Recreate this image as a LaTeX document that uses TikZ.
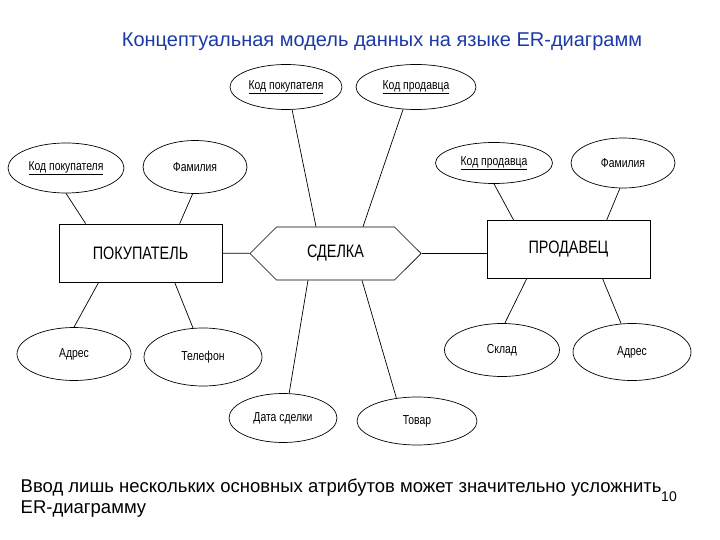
\documentclass[tikz,border=0pt]{standalone}
\usepackage{fontspec}
\setmainfont{Liberation Sans}
\newfontfamily\narrowfont{Liberation Sans}[FakeStretch=0.8]
\usetikzlibrary{shapes.geometric,shapes.symbols}
\definecolor{titleblue}{RGB}{28,58,165}

\begin{document}
\begin{tikzpicture}[x=1pt,y=-1pt,line width=0.7pt,
  attr/.style={draw,ellipse,inner sep=0pt,font=\narrowfont\fontsize{13}{15}\selectfont},
  entity/.style={draw,rectangle,minimum width=163pt,minimum height=58pt,font=\narrowfont\fontsize{18}{20}\selectfont},
  relation/.style={draw,signal,signal to=east and west,signal pointer angle=90,minimum width=171pt,minimum height=53pt,inner sep=0pt,font=\narrowfont\fontsize{18}{20}\selectfont}]
\useasboundingbox (0,0) rectangle (720,540);
\node[text=titleblue,font=\fontsize{20}{22}\selectfont] (t1) at (382,42) {Концептуальная модель данных на языке ER-диаграмм};
\node[entity] (v1) at (140.5,253) {ПОКУПАТЕЛЬ};
\node[relation] (v2) at (335.5,253.5) {СДЕЛКА};
\node[entity] (v3) at (568.5,249.5) {ПРОДАВЕЦ};
\draw (v1) -- (v2);
\draw (v2.east) -- (v2.east -| v3.west);
% buyer attributes
\node[attr,minimum width=116pt,minimum height=50pt] (v4) at (66,168) {\underline{Код покупателя}};
\node[attr,minimum width=104pt,minimum height=53pt] (v5) at (195,167) {Фамилия};
\node[attr,minimum width=114pt,minimum height=53pt] (v6) at (74,354) {Адрес};
\node[attr,minimum width=118pt,minimum height=58pt] (v7) at (203,357) {Телефон};
\draw (v4.south) -- ([xshift=27pt]v1.north west);
\draw (v5.-95) -- ([xshift=121pt]v1.north west);
\draw (v6.north) -- ([xshift=40pt]v1.south west);
\draw (v7.109) -- ([xshift=116pt]v1.south west);
% deal attributes
\node[attr,minimum width=112pt,minimum height=45pt] (v8) at (286,87) {\underline{Код покупателя}};
\node[attr,minimum width=120pt,minimum height=45pt] (v9) at (416,87) {\underline{Код продавца}};
\node[attr,minimum width=108pt,minimum height=49pt] (v10) at (283,418) {Дата сделки};
\node[attr,minimum width=120pt,minimum height=48pt] (v11) at (417,421) {Товар};
\draw (v8.-75) -- ([xshift=-19.5pt]v2.north);
\draw (v9.-120) -- ([xshift=27.5pt]v2.north);
\draw (v10.76) -- ([xshift=-27.5pt]v2.south);
\draw (v11.132) -- ([xshift=26.5pt]v2.south);
% seller attributes
\node[attr,minimum width=117pt,minimum height=41pt] (v12) at (494,163) {\underline{Код продавца}};
\node[attr,minimum width=104pt,minimum height=50pt] (v13) at (623,163) {Фамилия};
\node[attr,minimum width=115pt,minimum height=53pt] (v14) at (502,350) {Склад};
\node[attr,minimum width=118pt,minimum height=57pt] (v15) at (632,352) {Адрес};
\draw (v12.south) -- ([xshift=27pt]v3.north west);
\draw (v13.-97) -- ([xshift=120pt]v3.north west);
\draw (v14.84) -- ([xshift=40pt]v3.south west);
\draw (v15.111) -- ([xshift=116pt]v3.south west);
% footer
\node[anchor=west,align=left,font=\fontsize{18.5}{21.5}\selectfont] (n1) at (17,498) {Ввод лишь нескольких основных атрибутов может значительно усложнить\\ER-диаграмму};
\node[font=\fontsize{14}{16}\selectfont] (n2) at (669,497) {10};
\end{tikzpicture}
\end{document}
